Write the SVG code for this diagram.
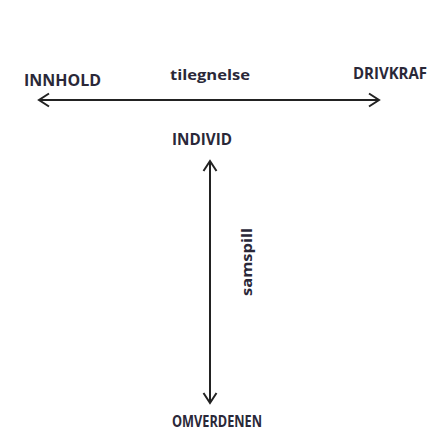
<svg xmlns="http://www.w3.org/2000/svg" width="433" height="437" viewBox="0 0 433 437">
  <style>
    .lbl { font-family: "Open Sans", "Liberation Sans", Arial, sans-serif; font-weight: 700; font-size: 16px; fill: #2a2838; }
    .lc { font-family: "Open Sans", "Liberation Sans", Arial, sans-serif; font-weight: 700; font-size: 15px; fill: #2a2838; }
    .conn { stroke: #222; stroke-width: 2; fill: none; }
  </style>
  <defs>
    <marker id="chev" viewBox="-12 -8 14 16" refX="0" refY="0" markerWidth="14" markerHeight="16" markerUnits="userSpaceOnUse" orient="auto-start-reverse">
      <path d="M-10,-6.5 L0,0 L-10,6.5" fill="none" stroke="#222" stroke-width="2"/>
    </marker>
  </defs>
  <rect width="433" height="437" fill="#ffffff"/>
  <g id="connectors">
    <line class="conn" x1="39" y1="100" x2="379" y2="100" marker-start="url(#chev)" marker-end="url(#chev)"/>
    <line class="conn" x1="210" y1="161" x2="210" y2="403" marker-start="url(#chev)" marker-end="url(#chev)"/>
  </g>
  <g id="innhold"><text class="lbl" x="24" y="86" textLength="77" lengthAdjust="spacingAndGlyphs">INNHOLD</text></g>
  <g id="tilegnelse"><text class="lc" x="170" y="80" textLength="80" lengthAdjust="spacingAndGlyphs">tilegnelse</text></g>
  <g id="drivkraf"><text class="lbl" x="353" y="79" textLength="74" lengthAdjust="spacingAndGlyphs">DRIVKRAF</text></g>
  <g id="individ"><text class="lbl" x="172" y="145" textLength="60" lengthAdjust="spacingAndGlyphs">INDIVID</text></g>
  <g id="samspill"><text class="lc" transform="translate(252,296) rotate(-90)" x="0" y="0" textLength="68" lengthAdjust="spacingAndGlyphs">samspill</text></g>
  <g id="omverdenen"><text class="lbl" x="172" y="427" textLength="90" lengthAdjust="spacingAndGlyphs">OMVERDENEN</text></g>
</svg>
